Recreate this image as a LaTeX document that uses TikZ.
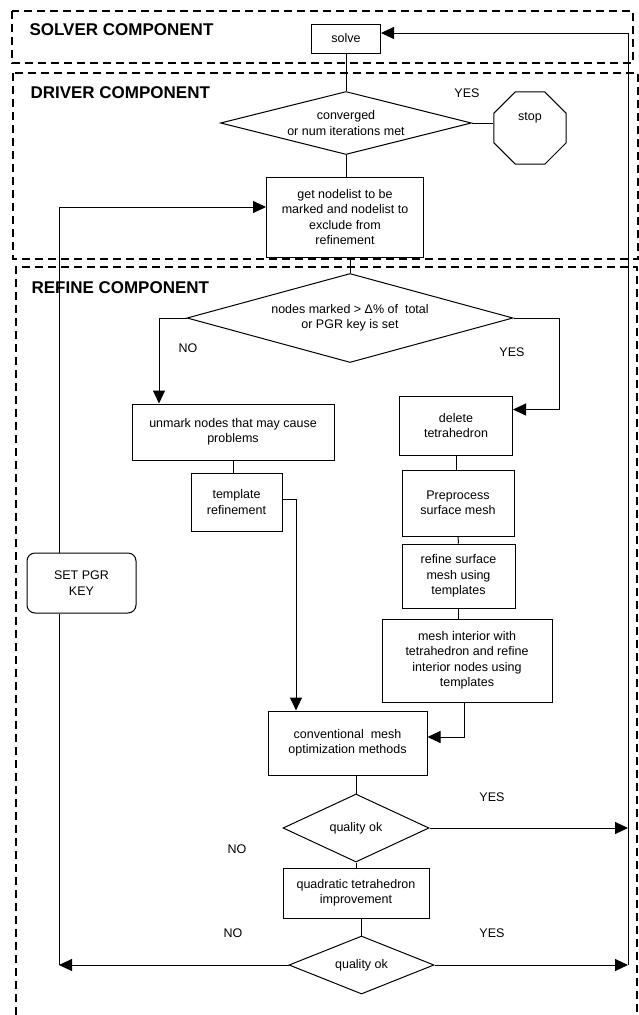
\documentclass[tikz,border=0pt]{standalone}
\usepackage{fontspec}
\setmainfont{Liberation Sans}
\usetikzlibrary{shapes.geometric,arrows.meta}

\begin{document}
\begin{tikzpicture}[x=1pt,y=-1pt,font=\fontsize{12.5}{15.5}\selectfont,
zone/.style={dash pattern=on 8pt off 5pt,line width=1.6pt},
comptitle/.style={anchor=west,font=\fontsize{17}{20}\selectfont\bfseries},
box/.style={draw,line width=1pt,align=center,inner sep=2pt},
choice/.style={draw,diamond,line width=1pt,align=center,inner sep=0pt},
link/.style={line width=1pt},
flow/.style={line width=1pt,-{Triangle[length=13pt,width=12pt]}}]
\useasboundingbox (0,0) rectangle (639,1015);
% component frames
\draw[zone] (12,11) rectangle (633,63);
\draw[zone] (13,73) rectangle (638,259);
\draw[zone] (16,1015) -- (16,267) -- (637,267) -- (637,1015);
\node[comptitle] (soltitle) at (26,30) {SOLVER COMPONENT};
\node[comptitle] (drvtitle) at (27,93) {DRIVER COMPONENT};
\node[comptitle] (reftitle) at (28,288) {REFINE COMPONENT};
% steps
\node[box,minimum width=69pt,minimum height=29pt] (solve) at (346,38.5) {solve};
\node[choice,minimum width=251pt,minimum height=63pt,aspect=4] (conv) at (346,123) {converged\\or num iterations met};
\node[draw,regular polygon,regular polygon sides=8,minimum size=78pt,line width=1pt,text height=8pt,text depth=24pt] (stop) at (530,128) {stop};
\node[box,minimum width=157pt,minimum height=80pt] (getlist) at (345,217) {get nodelist to be\\marked and nodelist to\\exclude from\\refinement};
\node[choice,minimum width=326pt,minimum height=89pt,aspect=3.6] (mark) at (350,318) {nodes marked > Δ\% of\ \ total\\or PGR key is set};
\node[box,minimum width=202pt,minimum height=56pt] (unmark) at (233,432) {unmark nodes that may cause\\problems};
\node[box,minimum width=113pt,minimum height=59pt] (delete) at (456,425.5) {delete\\tetrahedron};
\node[box,minimum width=91pt,minimum height=58pt] (templ) at (236.5,502) {template\\refinement};
\node[box,minimum width=112pt,minimum height=66pt] (preproc) at (458,503) {Preprocess\\surface mesh};
\node[box,minimum width=113pt,minimum height=64pt] (surf) at (458.5,576) {refine surface\\mesh using\\templates};
\node[box,minimum width=170pt,minimum height=83pt] (interior) at (467,660.5) {mesh interior with\\tetrahedron and refine\\interior nodes using\\templates};
\node[box,minimum width=159pt,minimum height=64pt] (optim) at (347.5,743) {conventional\ \ mesh\\optimization methods};
\node[choice,minimum width=146pt,minimum height=68pt,aspect=2.1] (qual1) at (356,828) {quality ok};
\node[box,minimum width=146pt,minimum height=50pt] (quad) at (356,893) {quadratic tetrahedron\\improvement};
\node[choice,minimum width=145pt,minimum height=58pt,aspect=2.5] (qual2) at (361.5,965) {quality ok};
\node[box,rounded corners=8pt,minimum width=109pt,minimum height=60pt] (pgr) at (81.5,583) {SET PGR\\KEY};
% branch labels
\node (yes1) at (467,93) {YES};
\node (no2) at (188,348) {NO};
\node (yes2) at (512,352) {YES};
\node (yes3) at (492,797) {YES};
\node (no3) at (237,849) {NO};
\node (no4) at (233,933) {NO};
\node (yes4) at (492,933) {YES};
% bends
\coordinate (rtop) at (628,33);
\coordinate (rbot) at (628,965);
\coordinate (ltop) at (59,207);
\coordinate (lbot) at (59,965);
\coordinate (nobend) at (159,318);
\coordinate (yesbend) at (559,318);
\coordinate (tplbend) at (296,499);
% connectors
\draw[link] (solve.south) -- (conv.north);
\draw[link] (conv.east) -- (conv.east -| stop.west);
\draw[link] (conv.south) -- (conv.south |- getlist.north);
\draw[link] (mark.north |- getlist.south) -- (mark.north);
\draw[flow] (mark.west) -- (nobend) -- (nobend |- unmark.north);
\draw[flow] (mark.east) -- (yesbend) |- ([yshift=16pt]delete.east);
\draw[link] (unmark.south) -- (unmark.south |- templ.north);
\draw[flow] (templ.east |- tplbend) -- (tplbend) -- (tplbend |- optim.north);
\draw[link] (delete.south) -- (delete.south |- preproc.north);
\draw[link] (preproc.south) -- (surf.north);
\draw[link] (surf.south) -- (surf.south |- interior.north);
\draw[flow] ([xshift=-3pt]interior.south) |- ([yshift=6pt]optim.east);
\draw[link] (qual1.north |- optim.south) -- (qual1.north);
\draw[flow] (qual1.east) -- (qual1.east -| rtop);
\draw[link] (qual1.south) -- (quad.north);
\draw[link] (qual2.north |- quad.south) -- (qual2.north);
\draw[flow] (qual2.east) -- (rbot);
\draw[flow] (qual2.west) -- (lbot);
\draw[link] (rbot) -- (rtop);
\draw[flow] (rtop) -- (rtop -| solve.east);
\draw[link] (lbot) -- (lbot |- pgr.south);
\draw[flow] (lbot |- pgr.north) -- (ltop) -- (ltop -| getlist.west);
\end{tikzpicture}
\end{document}
